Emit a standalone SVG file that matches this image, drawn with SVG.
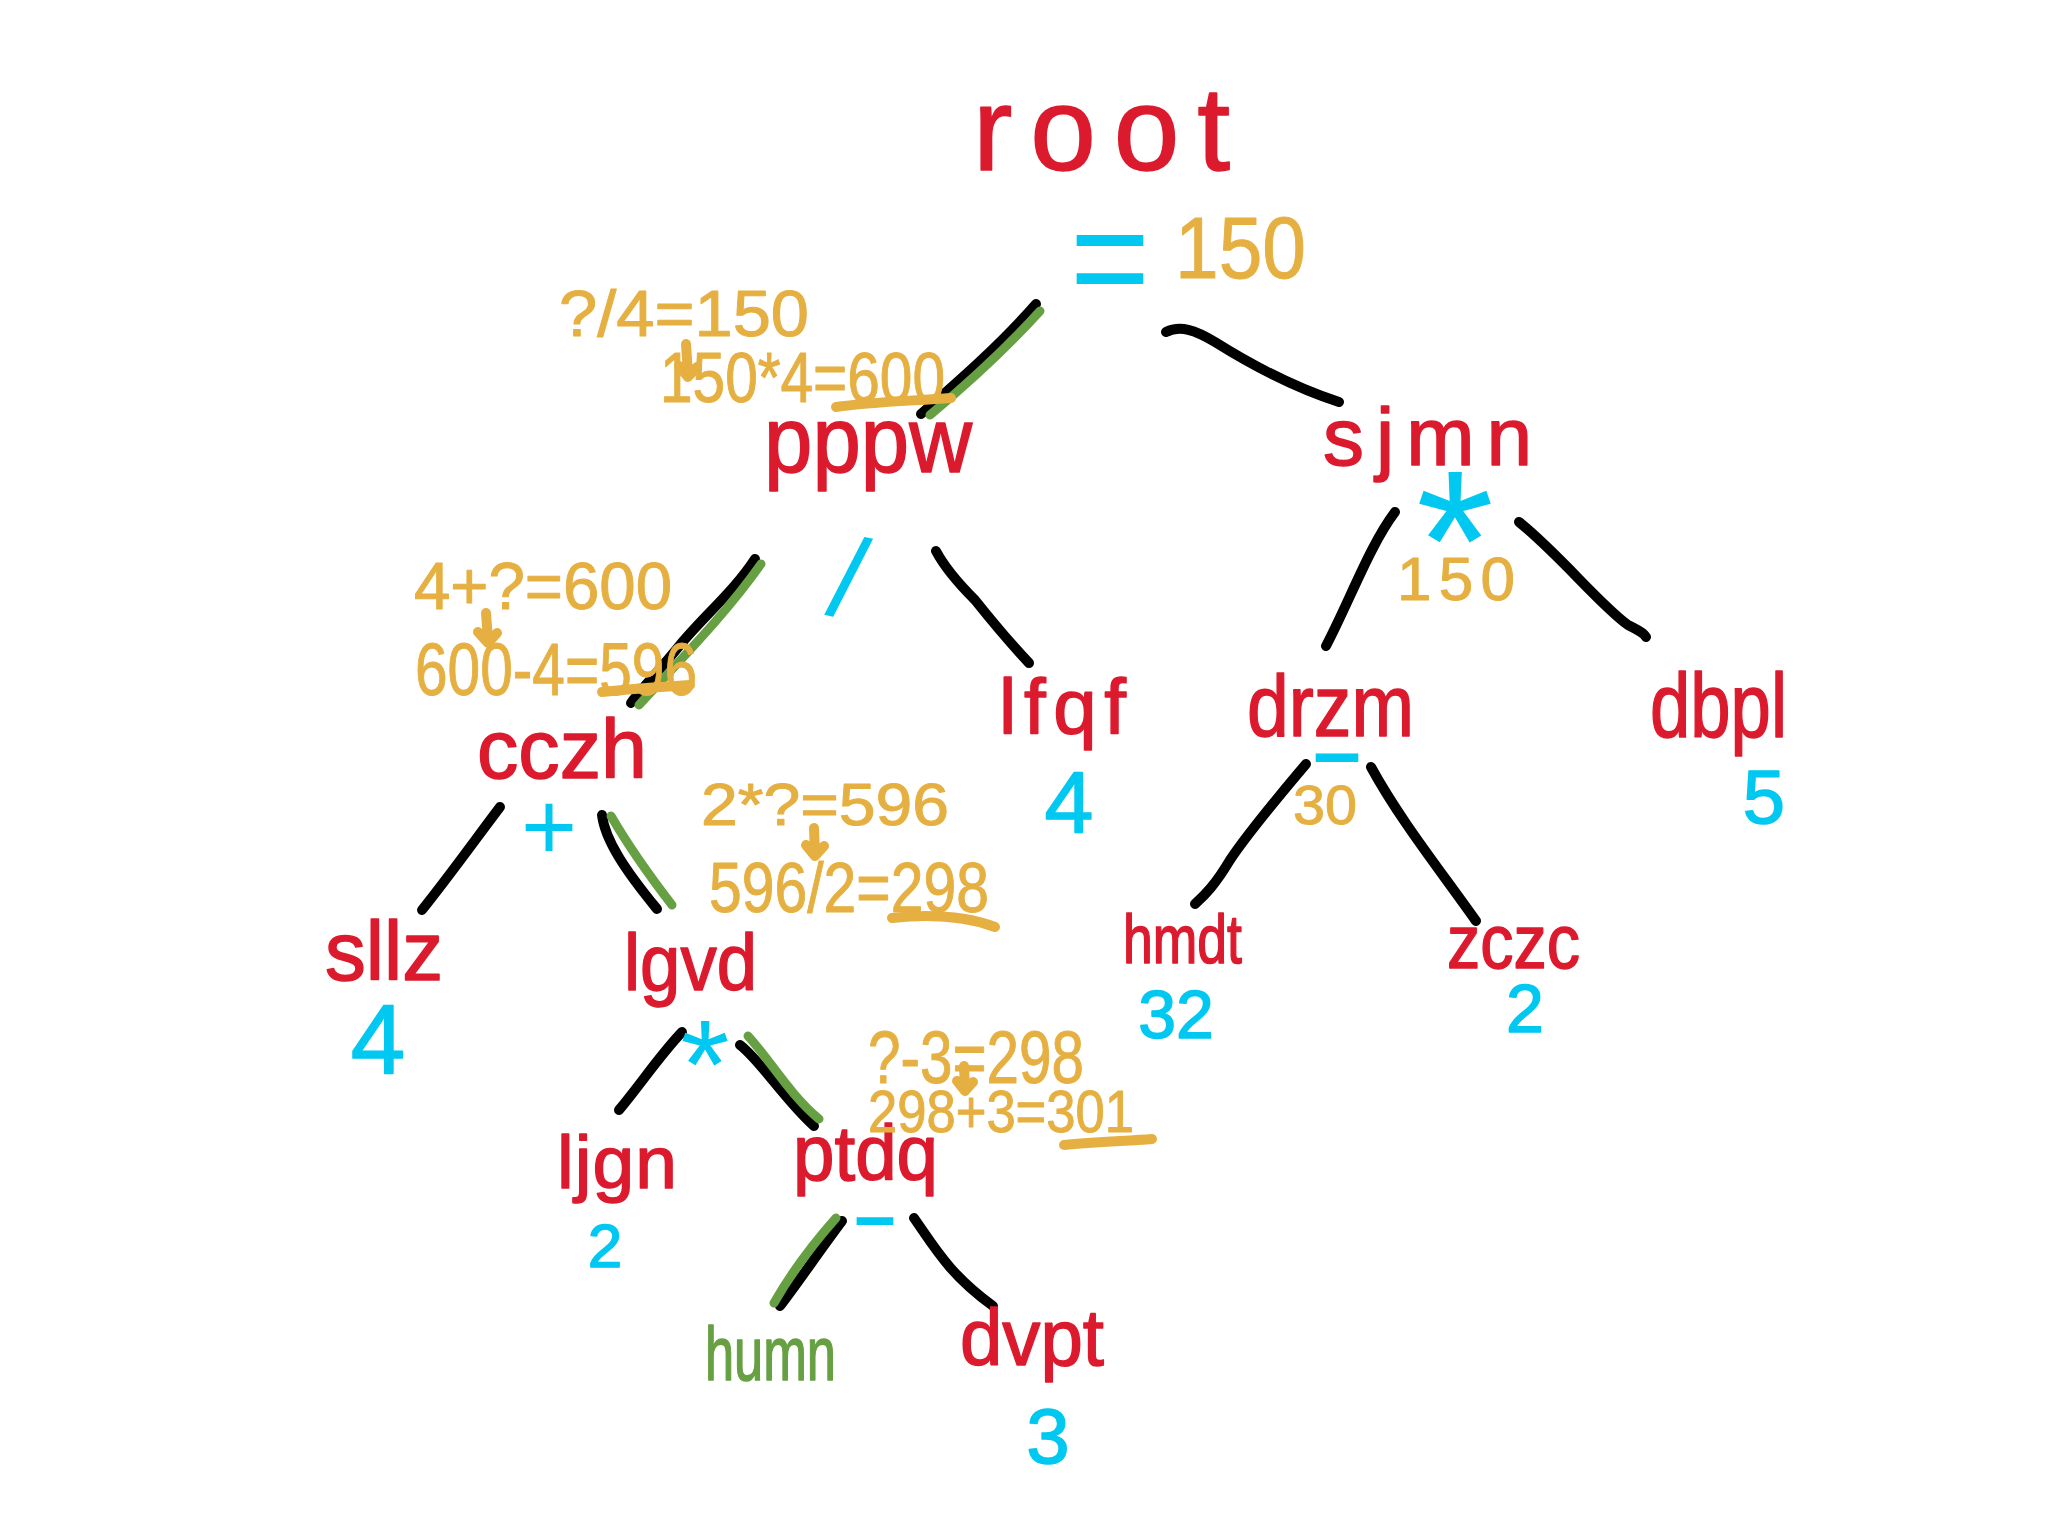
<svg xmlns="http://www.w3.org/2000/svg" width="2048" height="1536" viewBox="0 0 2048 1536">
<style>
text{font-family:"Liberation Sans","DejaVu Sans",sans-serif;stroke-linejoin:round;stroke-linecap:round}
.n{fill:#dc1a2e;stroke:#dc1a2e;stroke-width:1.5}
.h{fill:#67a043;stroke:#67a043;stroke-width:1.5}
.v{fill:#00c8f0;stroke:#00c8f0;stroke-width:1.5}
.o{fill:#00c8f0}
.a{fill:#e5b041;stroke:#e5b041;stroke-width:1}
.e{fill:none;stroke:#000;stroke-width:10;stroke-linecap:round;stroke-linejoin:round}
.g{fill:none;stroke:#67a043;stroke-width:9;stroke-linecap:round}
.u{fill:none;stroke:#e5b041;stroke-width:10;stroke-linecap:round;stroke-linejoin:round}
</style>
<rect width="2048" height="1536" fill="#fff"/>
<g id="connectors">
<path class="e" d="M1036,304 C1000,345 960,380 921,414"/>
<path class="g" d="M1040,311 C1003,352 966,385 930,415"/>
<path class="e" d="M1166,332 C1180,325 1195,330 1215,342 C1255,367 1295,388 1339,402"/>
<path class="e" d="M755,559 C735,590 705,615 680,645 C660,670 640,690 631,703"/>
<path class="g" d="M761,564 C725,615 680,660 639,705"/>
<path class="e" d="M936,551 C945,568 960,585 975,600 C995,625 1012,645 1029,663"/>
<path class="e" d="M1395,512 C1370,545 1350,600 1326,646"/>
<path class="e" d="M1519,522 C1560,555 1600,605 1628,625 C1638,630 1644,633 1646,637"/>
<path class="e" d="M1306,764 C1280,795 1250,830 1230,860 C1215,885 1205,895 1195,904"/>
<path class="e" d="M1371,767 C1400,820 1440,870 1476,921"/>
<path class="e" d="M500,807 C475,840 450,875 422,910"/>
<path class="e" d="M602,815 C605,840 625,870 657,909"/>
<path class="g" d="M611,816 C625,840 645,870 672,905"/>
<path class="e" d="M682,1032 C660,1055 640,1085 619,1110"/>
<path class="e" d="M740,1045 C760,1060 785,1100 814,1126"/>
<path class="g" d="M748,1036 C770,1060 790,1095 819,1119"/>
<path class="e" d="M842,1221 C820,1250 800,1280 780,1306"/>
<path class="g" d="M836,1218 C812,1245 790,1275 774,1303"/>
<path class="e" d="M914,1218 C935,1248 950,1275 993,1306"/>
</g>
<g id="root">
<text class="n" x="973" y="170" font-size="118" textLength="257" lengthAdjust="spacing">root</text>
<text class="o" x="1070" y="309" font-size="150" textLength="80" lengthAdjust="spacingAndGlyphs">=</text>
<text class="a" x="1175" y="278" font-size="88" textLength="131" lengthAdjust="spacingAndGlyphs">150</text>
</g>
<g id="pppw">
<text class="n" x="764" y="472" font-size="92" textLength="208" lengthAdjust="spacingAndGlyphs">pppw</text>
<text class="o" x="848" y="618" font-size="115" text-anchor="middle" transform="rotate(12 848 580)">/</text>
</g>
<g id="sjmn">
<text class="n" x="1323" y="465" font-size="82" textLength="209" lengthAdjust="spacing">sjmn</text>
<text class="o" x="1455" y="610" font-size="200" text-anchor="middle">*</text>
<text class="a" x="1397" y="600" font-size="62" textLength="118" lengthAdjust="spacing">150</text>
</g>
<g id="cczh">
<text class="n" x="477" y="778" font-size="84" textLength="170" lengthAdjust="spacingAndGlyphs">cczh</text>
<text class="o" x="549" y="860" font-size="96" text-anchor="middle">+</text>
</g>
<g id="lfqf">
<text class="n" x="999" y="734" font-size="78" textLength="127" lengthAdjust="spacing">lfqf</text>
<text class="v" x="1069" y="833" font-size="88" text-anchor="middle">4</text>
</g>
<g id="drzm">
<text class="n" x="1247" y="736" font-size="88" textLength="167" lengthAdjust="spacingAndGlyphs">drzm</text>
<text class="o" x="1308" y="787" font-size="110" textLength="58" lengthAdjust="spacingAndGlyphs">-</text>
<text class="a" x="1293" y="824" font-size="56" textLength="64" lengthAdjust="spacingAndGlyphs">30</text>
</g>
<g id="dbpl">
<text class="n" x="1650" y="737" font-size="90" textLength="137" lengthAdjust="spacingAndGlyphs">dbpl</text>
<text class="v" x="1764" y="823" font-size="76" text-anchor="middle">5</text>
</g>
<g id="sllz">
<text class="n" x="325" y="980" font-size="84" textLength="118" lengthAdjust="spacingAndGlyphs">sllz</text>
<text class="v" x="378" y="1073" font-size="98" text-anchor="middle">4</text>
</g>
<g id="lgvd">
<text class="n" x="624" y="990" font-size="80" textLength="133" lengthAdjust="spacingAndGlyphs">lgvd</text>
<text class="o" x="705" y="1108" font-size="126" text-anchor="middle">*</text>
</g>
<g id="hmdt">
<text class="n" x="1123" y="963" font-size="68" textLength="119" lengthAdjust="spacingAndGlyphs">hmdt</text>
<text class="v" x="1176" y="1038" font-size="68" text-anchor="middle">32</text>
</g>
<g id="zczc">
<text class="n" x="1447" y="968" font-size="76" textLength="133" lengthAdjust="spacingAndGlyphs">zczc</text>
<text class="v" x="1525" y="1032" font-size="68" text-anchor="middle">2</text>
</g>
<g id="ljgn">
<text class="n" x="557" y="1188" font-size="75" textLength="120" lengthAdjust="spacing">ljgn</text>
<text class="v" x="605" y="1267" font-size="62" text-anchor="middle">2</text>
</g>
<g id="ptdq">
<text class="n" x="793" y="1180" font-size="78" textLength="145" lengthAdjust="spacingAndGlyphs">ptdq</text>
<text class="o" x="850" y="1248" font-size="100" textLength="50" lengthAdjust="spacingAndGlyphs">-</text>
</g>
<g id="humn">
<text class="h" x="705" y="1380" font-size="76" textLength="131" lengthAdjust="spacingAndGlyphs">humn</text>
</g>
<g id="dvpt">
<text class="n" x="960" y="1365" font-size="80" textLength="144" lengthAdjust="spacingAndGlyphs">dvpt</text>
<text class="v" x="1048" y="1463" font-size="78" text-anchor="middle">3</text>
</g>
<g id="annotations">
<text class="a" x="559" y="336" font-size="64" textLength="250" lengthAdjust="spacingAndGlyphs">?/4=150</text>
<path class="u" d="M686,344 L688,374 M679,366 L688,377 L697,367" stroke-width="6"/>
<text class="a" x="660" y="402" font-size="70" textLength="285" lengthAdjust="spacingAndGlyphs">150*4=600</text>
<path class="u" d="M836,407 C870,402 910,401 951,398"/>
<text class="a" x="414" y="609" font-size="66" textLength="258" lengthAdjust="spacingAndGlyphs">4+?=600</text>
<path class="u" d="M486,613 L488,640 M478,632 L488,643 L497,633" stroke-width="6"/>
<text class="a" x="415" y="695" font-size="74" textLength="282" lengthAdjust="spacingAndGlyphs">600-4=596</text>
<path class="u" d="M602,692 C630,689 660,687 690,685"/>
<text class="a" x="701" y="825" font-size="60" textLength="248" lengthAdjust="spacingAndGlyphs">2*?=596</text>
<path class="u" d="M814,828 L815,853 M806,845 L815,856 M824,846 L815,856" stroke-width="6"/>
<text class="a" x="709" y="912" font-size="70" textLength="280" lengthAdjust="spacingAndGlyphs">596/2=298</text>
<path class="u" d="M892,918 C930,914 965,916 995,927"/>
<text class="a" x="868" y="1083" font-size="74" textLength="216" lengthAdjust="spacingAndGlyphs">?-3=298</text>
<path class="u" d="M964,1066 L965,1088 M957,1081 L965,1091 L973,1082" stroke-width="6"/>
<text class="a" x="868" y="1132" font-size="60" textLength="266" lengthAdjust="spacingAndGlyphs">298+3=301</text>
<path class="u" d="M1064,1145 C1095,1142 1125,1141 1152,1139"/>
</g>
</svg>
